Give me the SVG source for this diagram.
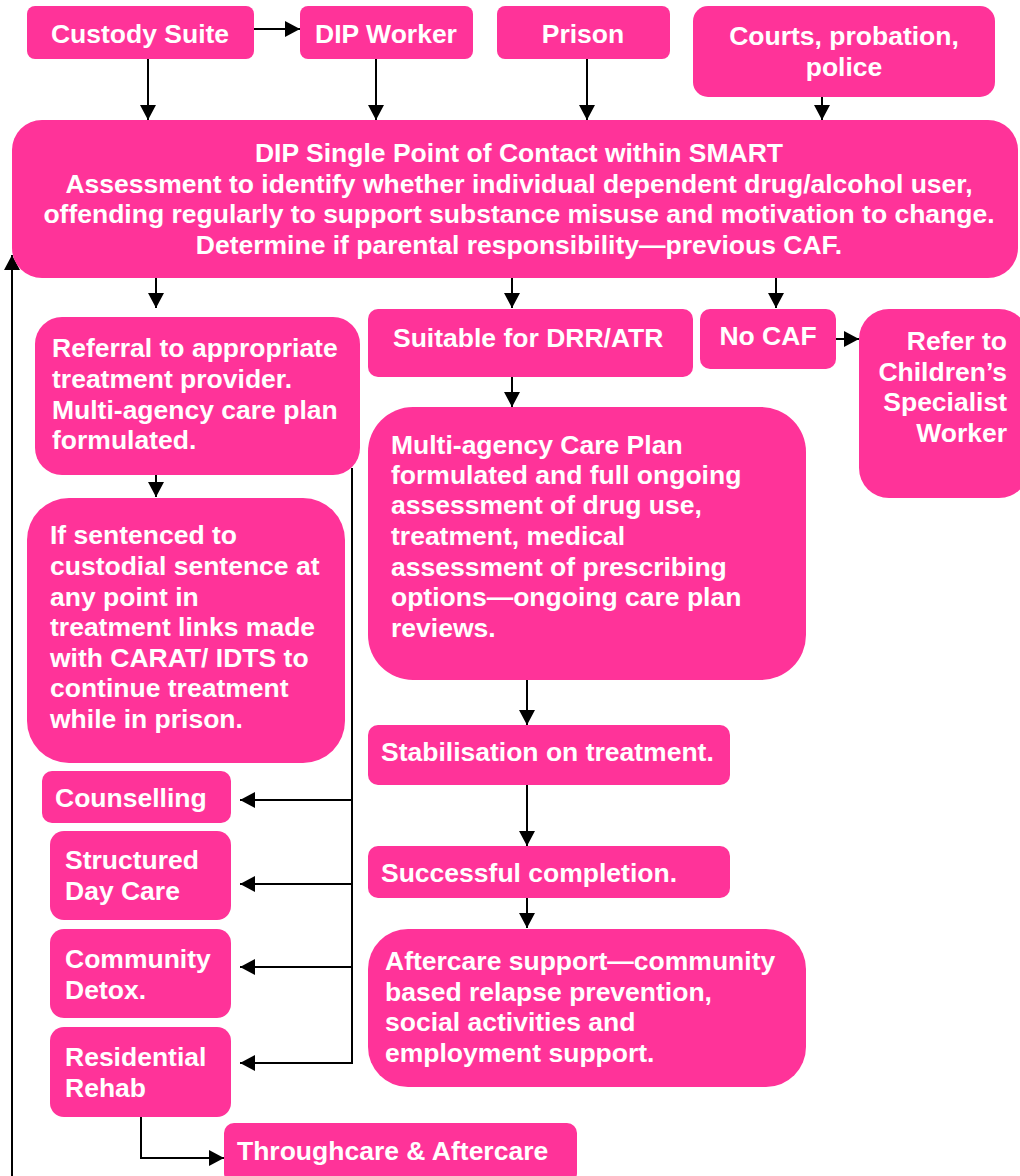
<svg xmlns="http://www.w3.org/2000/svg" width="1020" height="1176" viewBox="0 0 1020 1176">
<style>
.n{fill:#FF3399;}
.t{fill:#fff;font-family:"Liberation Sans",Arial,sans-serif;font-weight:bold;font-size:26.5px;}
.c{text-anchor:middle;}
.r{text-anchor:end;}
.e{fill:none;stroke:#000;stroke-width:2;}
</style>
<defs>
<marker id="ah" viewBox="0 0 15 16" refX="15" refY="8" markerWidth="15" markerHeight="16" orient="auto" markerUnits="userSpaceOnUse">
<path d="M0,0 L15,8 L0,16 z" fill="#000"/>
</marker>
</defs>
<rect width="1020" height="1176" fill="#fff"/>
<g id="connectors">
<path class="e" d="M254,29 H300" marker-end="url(#ah)"/>
<path class="e" d="M148,59 V120" marker-end="url(#ah)"/>
<path class="e" d="M376,59 V120" marker-end="url(#ah)"/>
<path class="e" d="M587,59 V120" marker-end="url(#ah)"/>
<path class="e" d="M822,97 V120" marker-end="url(#ah)"/>
<path class="e" d="M12,1176 V255" marker-end="url(#ah)"/>
<path class="e" d="M156,278 V308" marker-end="url(#ah)"/>
<path class="e" d="M512,278 V308" marker-end="url(#ah)"/>
<path class="e" d="M776,278 V308" marker-end="url(#ah)"/>
<path class="e" d="M836,339 H859" marker-end="url(#ah)"/>
<path class="e" d="M156,475 V497" marker-end="url(#ah)"/>
<path class="e" d="M512,377 V407" marker-end="url(#ah)"/>
<path class="e" d="M527,680 V725" marker-end="url(#ah)"/>
<path class="e" d="M527,785 V846" marker-end="url(#ah)"/>
<path class="e" d="M527,898 V928" marker-end="url(#ah)"/>
<path class="e" d="M352,468 V1063"/>
<path class="e" d="M352,800 H240" marker-end="url(#ah)"/>
<path class="e" d="M352,884 H240" marker-end="url(#ah)"/>
<path class="e" d="M352,967 H240" marker-end="url(#ah)"/>
<path class="e" d="M353,1063 H240" marker-end="url(#ah)"/>
<path class="e" d="M141,1117 V1158 H224" marker-end="url(#ah)"/>
</g>
<g id="custody"><rect class="n" x="27" y="6" width="227" height="53" rx="8"/><text class="t c" x="140" y="43">Custody Suite</text></g>
<g id="dipworker"><rect class="n" x="300" y="6" width="173" height="53" rx="8"/><text class="t c" x="386" y="43">DIP Worker</text></g>
<g id="prison"><rect class="n" x="497" y="6" width="173" height="53" rx="8"/><text class="t c" x="583" y="43">Prison</text></g>
<g id="courts"><rect class="n" x="693" y="6" width="302" height="91" rx="15"/><text class="t c" x="844" y="45">Courts, probation,</text><text class="t c" x="844" y="76">police</text></g>
<g id="spoc"><rect class="n" x="12" y="120" width="1006" height="158" rx="30"/>
<text class="t c" x="519" y="162">DIP Single Point of Contact within SMART</text>
<text class="t c" x="519" y="193">Assessment to identify whether individual dependent drug/alcohol user,</text>
<text class="t c" x="519" y="223">offending regularly to support substance misuse and motivation to change.</text>
<text class="t c" x="519" y="254">Determine if parental responsibility—previous CAF.</text></g>
<g id="referral"><rect class="n" x="35" y="317" width="325" height="158" rx="27"/>
<text class="t" x="52" y="357">Referral to appropriate</text>
<text class="t" x="52" y="388">treatment provider.</text>
<text class="t" x="52" y="419">Multi-agency care plan</text>
<text class="t" x="52" y="449">formulated.</text></g>
<g id="sentenced"><rect class="n" x="27" y="498" width="318" height="265" rx="42"/>
<text class="t" x="50" y="544">If sentenced to</text>
<text class="t" x="50" y="575">custodial sentence at</text>
<text class="t" x="50" y="606">any point in</text>
<text class="t" x="50" y="636">treatment links made</text>
<text class="t" x="50" y="667">with CARAT/ IDTS to</text>
<text class="t" x="50" y="697">continue treatment</text>
<text class="t" x="50" y="728">while in prison.</text></g>
<g id="suitable"><rect class="n" x="368" y="309" width="325" height="68" rx="10"/><text class="t" x="393" y="347">Suitable for DRR/ATR</text></g>
<g id="nocaf"><rect class="n" x="700" y="309" width="136" height="60" rx="10"/><text class="t c" x="768" y="345">No CAF</text></g>
<g id="refer"><rect class="n" x="859" y="309" width="170" height="189" rx="30"/>
<text class="t r" x="1007" y="350">Refer to</text>
<text class="t r" x="1007" y="381">Children’s</text>
<text class="t r" x="1007" y="411">Specialist</text>
<text class="t r" x="1007" y="442">Worker</text></g>
<g id="careplan"><rect class="n" x="368" y="407" width="438" height="273" rx="45"/>
<text class="t" x="391" y="454">Multi-agency Care Plan</text>
<text class="t" x="391" y="484">formulated and full ongoing</text>
<text class="t" x="391" y="514">assessment of drug use,</text>
<text class="t" x="391" y="545">treatment, medical</text>
<text class="t" x="391" y="576">assessment of prescribing</text>
<text class="t" x="391" y="606">options—ongoing care plan</text>
<text class="t" x="391" y="637">reviews.</text></g>
<g id="stabilisation"><rect class="n" x="368" y="725" width="362" height="60" rx="10"/><text class="t" x="381" y="761">Stabilisation on treatment.</text></g>
<g id="successful"><rect class="n" x="368" y="846" width="362" height="52" rx="10"/><text class="t" x="381" y="882">Successful completion.</text></g>
<g id="aftercare"><rect class="n" x="368" y="929" width="438" height="158" rx="40"/>
<text class="t" x="385" y="970">Aftercare support—community</text>
<text class="t" x="385" y="1001">based relapse prevention,</text>
<text class="t" x="385" y="1031">social activities and</text>
<text class="t" x="385" y="1062">employment support.</text></g>
<g id="counselling"><rect class="n" x="42" y="771" width="189" height="52" rx="10"/><text class="t" x="55" y="807">Counselling</text></g>
<g id="daycare"><rect class="n" x="50" y="831" width="181" height="89" rx="14"/><text class="t" x="65" y="869">Structured</text><text class="t" x="65" y="900">Day Care</text></g>
<g id="detox"><rect class="n" x="50" y="929" width="181" height="89" rx="14"/><text class="t" x="65" y="968">Community</text><text class="t" x="65" y="999">Detox.</text></g>
<g id="rehab"><rect class="n" x="50" y="1027" width="181" height="90" rx="14"/><text class="t" x="65" y="1066">Residential</text><text class="t" x="65" y="1097">Rehab</text></g>
<g id="throughcare"><rect class="n" x="224" y="1123" width="353" height="60" rx="10"/><text class="t" x="237" y="1160">Throughcare &amp; Aftercare</text></g>
</svg>
